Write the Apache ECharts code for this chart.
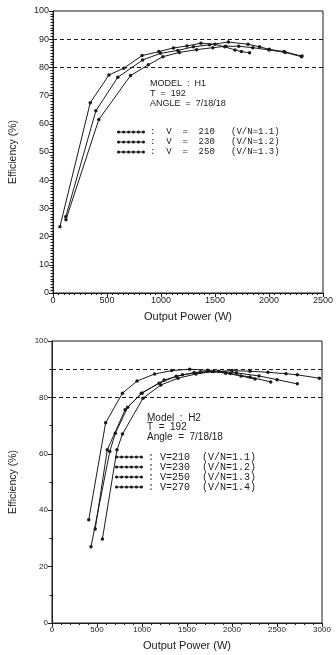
<!DOCTYPE html>
<html>
<head>
<meta charset="utf-8">
<script src="https://cdn.jsdelivr.net/npm/echarts@6/dist/echarts.min.js"></script>
<style>
  html, body { margin: 0; padding: 0; background: #fff; }
  #chart { width: 336px; height: 655px; }
</style>
</head>
<body>
<div id="chart"></div>
<script>
// Model H1 — [output power W, efficiency %]
const h1V210 = [[64, 23.5], [345, 67.5], [518, 77.3], [655, 79.7], [825, 84.2], [980, 85.6], [1115, 86.9], [1240, 87.6], [1370, 88.6], [1500, 88.2], [1590, 87.3], [1685, 86.2], [1745, 85.6], [1820, 85.2]];
const h1V230 = [[118, 27], [397, 64.6], [600, 76.5], [830, 82.6], [995, 85], [1155, 86], [1300, 87.3], [1450, 88], [1624, 89], [1806, 88.2], [1912, 87.3], [2003, 86.4], [2139, 85.6], [2306, 84]];
const h1V250 = [[120, 26], [424, 61.5], [718, 77.1], [882, 80.9], [1018, 83.8], [1170, 85.3], [1330, 86.3], [1480, 87], [1600, 87.5], [1720, 87.5], [1850, 87], [2000, 86.2], [2150, 85.3], [2300, 83.8]];

// Model H2
const h2V210 = [[408, 36.6], [596, 71], [783, 81.5], [945, 85.8], [1140, 88.3], [1330, 89.5], [1530, 90], [1730, 89.6], [1930, 88.6], [2100, 87.6], [2256, 86.5]];
const h2V230 = [[433, 27], [642, 60.8], [704, 67.3], [841, 76.5], [993, 81.5], [1190, 85], [1380, 87.5], [1580, 88.8], [1780, 89.2], [1980, 88.5], [2200, 87.2], [2430, 85.5]];
const h2V250 = [[480, 33.3], [614, 61.4], [812, 75.6], [1000, 81.5], [1246, 86.2], [1450, 88], [1650, 89], [1850, 89.3], [2050, 88.7], [2300, 87.6], [2500, 86.3], [2726, 84.8]];
const h2V270 = [[560, 29.8], [722, 61.4], [783, 67], [1011, 79.7], [1209, 84.4], [1400, 86.8], [1600, 88.3], [1800, 89.2], [2000, 89.5], [2200, 89.3], [2400, 88.9], [2600, 88.4], [2726, 88], [2971, 86.8]];

const h1Names = [':  V  =  210   (V/N=1.1)', ':  V  =  230   (V/N=1.2)', ':  V  =  250   (V/N=1.3)'];
const h2Names = [': V=210  (V/N=1.1)', ': V=230  (V/N=1.2)', ': V=250  (V/N=1.3)', ': V=270  (V/N=1.4)'];
const refLevels = [80, 90];

const INK = '#1b1b1b';
const SANS = '"Liberation Sans", Arial, sans-serif';
const MONO = '"Liberation Mono", "DejaVu Sans Mono", monospace';

// dotted legend glyph: line with six beads (all subpaths clockwise so nothing cancels)
const beads = [1.6, 6.6, 11.6, 16.4, 21.4, 26.4]
  .map((cx) => `M${cx - 1.6},2a1.6,1.6 0 1,1 3.2,0a1.6,1.6 0 1,1 -3.2,0Z`).join('');
const legendIcon = `path://M0,1.4H28V2.6H0Z${beads}`;

function lineSeries(name, data, idx, withRefs) {
  const s = {
    type: 'line',
    name,
    data,
    xAxisIndex: idx,
    yAxisIndex: idx,
    symbol: 'circle',
    symbolSize: 3.5,
    showAllSymbol: true,
    lineStyle: { color: INK, width: 1 },
    itemStyle: { color: INK },
    emphasis: { disabled: true },
    animation: false,
  };
  if (withRefs) {
    s.markLine = {
      silent: true,
      symbol: ['none', 'none'],
      label: { show: false },
      lineStyle: { color: INK, width: 1, type: [4, 3] },
      data: refLevels.map((v) => ({ yAxis: v })),
    };
  }
  return s;
}

function xAxis(idx, max, labelSize, nameGap) {
  return {
    gridIndex: idx,
    type: 'value',
    min: 0,
    max,
    interval: 500,
    name: 'Output Power (W)',
    nameLocation: 'middle',
    nameGap,
    nameTextStyle: { fontFamily: SANS, fontSize: 11, color: INK },
    axisLine: { lineStyle: { color: INK, width: 1 } },
    axisTick: { length: 4, lineStyle: { color: INK } },
    minorTick: { show: true, splitNumber: idx === 0 ? 10 : 5, length: 2, lineStyle: { color: INK } },
    splitLine: { show: false },
    axisLabel: { fontFamily: SANS, fontSize: labelSize, color: INK, margin: 3, formatter: (v) => String(v) },
  };
}

function yAxis(idx, interval, minorSplit, labelSize, nameGap) {
  return {
    gridIndex: idx,
    type: 'value',
    min: 0,
    max: 100,
    interval,
    name: 'Efficiency (%)',
    nameLocation: 'middle',
    nameGap,
    nameTextStyle: { fontFamily: SANS, fontSize: 10.5, color: INK },
    axisLine: { show: true, lineStyle: { color: INK, width: 1 } },
    axisTick: { show: true, length: 4, lineStyle: { color: INK } },
    minorTick: { show: true, splitNumber: minorSplit, length: 2.5, lineStyle: { color: INK } },
    splitLine: { show: false },
    axisLabel: { fontFamily: SANS, fontSize: labelSize, color: INK, margin: 4 },
  };
}

function legend(names, left, top, fontSize, lineHeight) {
  return {
    data: names,
    orient: 'vertical',
    left,
    top,
    padding: 0,
    itemGap: 0,
    itemWidth: 28,
    itemHeight: 4,
    icon: legendIcon,
    selectedMode: false,
    itemStyle: { color: INK, borderWidth: 0 },
    lineStyle: { width: 0 },
    textStyle: { fontFamily: MONO, fontSize, color: INK, lineHeight },
  };
}

const chart = echarts.init(document.getElementById('chart'), null, { renderer: 'canvas' });

chart.setOption({
  backgroundColor: '#fff',
  animation: false,
  grid: [
    { left: 48, top: 11, width: 275, height: 282, show: true, borderColor: INK, borderWidth: 1 },
    { left: 45, top: 341, width: 277, height: 282, show: true, borderColor: INK, borderWidth: 1 },
  ],
  xAxis: [xAxis(0, 2500, 9, 18), xAxis(1, 3000, 8, 17)],
  yAxis: [yAxis(0, 10, 10, 9, 34), yAxis(1, 20, 2, 8, 33)],
  legend: [legend(h1Names, 117, 127, 9, 10), legend(h2Names, 115, 452, 10, 9.5)],
  graphic: [
    {
      type: 'text',
      left: 150,
      top: 79,
      silent: true,
      style: {
        text: 'MODEL  :  H1\nT  =  192\nANGLE  =  7/18/18',
        fontFamily: SANS,
        fontSize: 9,
        lineHeight: 10,
        fill: INK,
      },
    },
    {
      type: 'text',
      left: 147,
      top: 413,
      silent: true,
      style: {
        text: 'Model  :  H2\nT  =  192\nAngle  =  7/18/18',
        fontFamily: SANS,
        fontSize: 10,
        lineHeight: 9.5,
        fill: INK,
      },
    },
  ],
  series: [
    lineSeries(h1Names[0], h1V210, 0, true),
    lineSeries(h1Names[1], h1V230, 0, false),
    lineSeries(h1Names[2], h1V250, 0, false),
    lineSeries(h2Names[0], h2V210, 1, true),
    lineSeries(h2Names[1], h2V230, 1, false),
    lineSeries(h2Names[2], h2V250, 1, false),
    lineSeries(h2Names[3], h2V270, 1, false),
  ],
});
</script>
</body>
</html>
